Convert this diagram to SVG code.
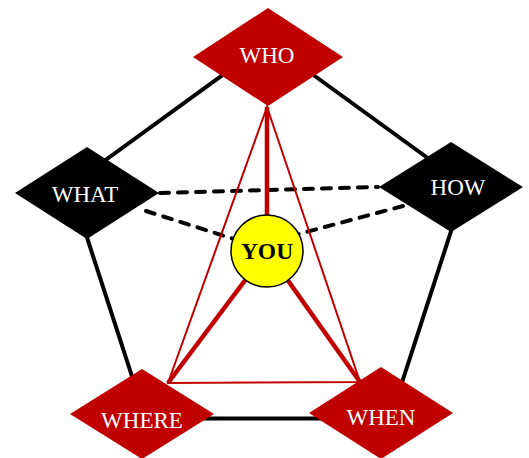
<svg xmlns="http://www.w3.org/2000/svg" width="529" height="458" viewBox="0 0 529 458">
<style>
.frame{fill:none;stroke:#000;stroke-width:4;stroke-linejoin:miter}
.dash{stroke:#000;stroke-width:4;stroke-dasharray:9 9;stroke-linecap:round;fill:none}
.thin{stroke:#C00000;stroke-width:2;fill:none}
.thick{stroke:#C00000;stroke-width:4.5;fill:none}
.red{fill:#C00000}
.blk{fill:#000}
.lbl{font-family:"Liberation Serif","Times New Roman",serif;font-size:23px;fill:#fff;text-anchor:middle}
.you{font-family:"Liberation Serif","Times New Roman",serif;font-size:23.5px;font-weight:bold;fill:#000;text-anchor:middle}
</style>
<rect width="529" height="458" fill="#fff"/>
<g id="connectors">
<polygon class="frame" points="268,42 465.8,185.7 390.3,418.5 145.7,418.5 70.2,185.7"/>
<line class="dash" x1="160" y1="193" x2="378" y2="187"/>
<line class="dash" x1="146" y1="211" x2="240" y2="241"/>
<line class="dash" x1="403" y1="206" x2="295" y2="235"/>
<polygon class="thin" points="267,107 168,383 360,382"/>
<line class="thick" x1="267" y1="107" x2="267" y2="251"/>
<line class="thick" x1="267" y1="251" x2="168" y2="383"/>
<line class="thick" x1="267" y1="251" x2="360" y2="382"/>
</g>
<g id="who">
<polygon class="red" points="268,8 343,57 268,106 193,57"/>
<text class="lbl" x="267" y="63">WHO</text>
</g>
<g id="what">
<polygon class="blk" points="87,147 159,193 87,239 15,193"/>
<text class="lbl" x="85" y="202">WHAT</text>
</g>
<g id="how">
<polygon class="blk" points="451,142 523,187 451,232 379,187"/>
<text class="lbl" x="458" y="195">HOW</text>
</g>
<g id="where">
<polygon class="red" points="142,369 214,414 142,459 70,414"/>
<text class="lbl" x="142" y="428">WHERE</text>
</g>
<g id="when">
<polygon class="red" points="381,367 453,413 381,459 309,413"/>
<text class="lbl" x="381" y="425">WHEN</text>
</g>
<g id="you">
<circle cx="267" cy="251" r="36" fill="#FFFF00" stroke="#000" stroke-width="1.5"/>
<text class="you" x="267" y="259">YOU</text>
</g>
</svg>
